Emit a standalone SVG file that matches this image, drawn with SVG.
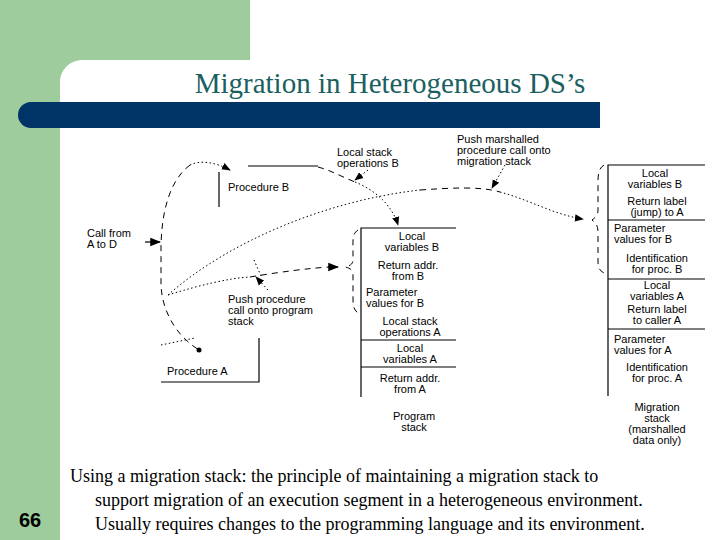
<svg xmlns="http://www.w3.org/2000/svg" width="720" height="540" viewBox="0 0 720 540">
<style>
.t{font-family:"Liberation Sans",Arial,sans-serif;font-size:11px;fill:#000;text-anchor:middle}
.tl{font-family:"Liberation Sans",Arial,sans-serif;font-size:11px;fill:#000}
.ln{stroke:#000;stroke-width:1.2;fill:none}
.da{stroke:#000;stroke-width:1;fill:none;stroke-dasharray:6 5}
.do{stroke:#000;stroke-width:1;fill:none;stroke-dasharray:1.5 2.5}
.cap{font-family:"Liberation Serif","Times New Roman",serif;font-size:18px;fill:#000}
</style>
<defs><marker id="ah" viewBox="0 0 10 10" refX="9" refY="5" markerWidth="9" markerHeight="9" orient="auto"><path d="M0,1 L10,5 L0,9 Z" fill="#000"/></marker></defs>
<rect width="720" height="540" fill="#fff"/>
<rect x="0" y="0" width="250" height="60" fill="#9fcc9c"/>
<rect x="0" y="0" width="60" height="540" fill="#9fcc9c"/>
<path d="M60,60 H82 A22,22 0 0 0 60,82 Z" fill="#9fcc9c"/>
<path d="M31,102 H600 V128 H31 A13,13 0 0 1 31,102 Z" fill="#003366"/>
<text x="390" y="93" font-family="Liberation Serif,Times New Roman,serif" font-size="29" fill="#1a6060" text-anchor="middle">Migration in Heterogeneous DS’s</text>
<text x="30" y="527" font-family="Liberation Sans,Arial,sans-serif" font-size="20" font-weight="bold" fill="#000" text-anchor="middle">66</text>
<text class="cap" x="70" y="482">Using a migration stack: the principle of maintaining a migration stack to</text>
<text class="cap" x="95" y="506">support migration of an execution segment in a heterogeneous environment.</text>
<text class="cap" x="95" y="530">Usually requires changes to the programming language and its environment.</text>
<g id="procB"><path class="ln" d="M248,166 H318 M219,172 V207"/><text class="tl" x="228" y="191">Procedure B</text></g>
<g id="procA"><path class="ln" d="M161,382 H259 V338"/><text class="tl" x="167" y="375">Procedure A</text><circle cx="199" cy="350" r="2.5" fill="#000"/></g>
<g id="progStack"><path class="ln" d="M361,397 V228 H456 M361,340 H456 M361,367 H456"/>
<text class="t" x="412" y="240">Local</text><text class="t" x="412" y="251">variables B</text>
<text class="t" x="408" y="269">Return addr.</text><text class="t" x="408" y="280">from B</text>
<text class="tl" x="366" y="296">Parameter</text><text class="tl" x="366" y="307">values for B</text>
<text class="t" x="410" y="325">Local stack</text><text class="t" x="410" y="336">operations A</text>
<text class="t" x="410" y="352">Local</text><text class="t" x="410" y="363">variables A</text>
<text class="t" x="410" y="382">Return addr.</text><text class="t" x="410" y="393">from A</text>
<text class="t" x="414" y="420">Program</text><text class="t" x="414" y="431">stack</text></g>
<g id="migStack"><path class="ln" d="M608,396 V165 H705 M608,220 H705 M608,279 H705 M608,329 H705"/>
<text class="t" x="655" y="177">Local</text><text class="t" x="655" y="188">variables B</text>
<text class="t" x="657" y="205">Return label</text><text class="t" x="657" y="216">(jump) to A</text>
<text class="tl" x="614" y="232">Parameter</text><text class="tl" x="614" y="243">values for B</text>
<text class="t" x="657" y="262">Identification</text><text class="t" x="657" y="273">for proc. B</text>
<text class="t" x="657" y="289">Local</text><text class="t" x="657" y="300">variables A</text>
<text class="t" x="657" y="313">Return label</text><text class="t" x="657" y="324">to caller A</text>
<text class="tl" x="614" y="343">Parameter</text><text class="tl" x="614" y="354">values for A</text>
<text class="t" x="657" y="371">Identification</text><text class="t" x="657" y="382">for proc. A</text>
<text class="t" x="657" y="411">Migration</text><text class="t" x="657" y="422">stack</text><text class="t" x="657" y="433">(marshalled</text><text class="t" x="657" y="444">data only)</text></g>
<g id="labels">
<text class="tl" x="87" y="237">Call from</text><text class="tl" x="87" y="248">A to D</text>
<text class="tl" x="337" y="156">Local stack</text><text class="tl" x="337" y="167">operations B</text>
<text class="tl" x="457" y="143">Push marshalled</text><text class="tl" x="457" y="154">procedure call onto</text><text class="tl" x="457" y="165">migration stack</text>
<text class="tl" x="228" y="303">Push procedure</text><text class="tl" x="228" y="314">call onto program</text><text class="tl" x="228" y="325">stack</text>
</g>
<g id="connectors">
<path class="da" d="M190,165 C170,180 162,210 161,245 V285 C162,310 175,335 199,350"/>
<path class="do" d="M190,165 C200,160 215,162 230,170" marker-end="url(#ah)"/>
<path class="ln" d="M145,242 H160" marker-end="url(#ah)"/>
<path class="do" d="M161,345 L195,338"/>
<path class="do" d="M168,295 C230,240 330,200 420,190"/>
<path class="da" d="M420,190 C450,188 480,186 500,192"/>
<path class="do" d="M500,192 C530,200 555,215 583,219" marker-end="url(#ah)"/>
<path class="do" d="M168,295 C200,285 230,278 250,277"/>
<path class="da" d="M250,277 C280,272 310,268 330,267"/>
<path class="ln" d="M328,267 L338,267" marker-end="url(#ah)"/>
<path class="do" d="M255,260 L262,276" transform="rotate(180 258 268)"/>
<path class="do" d="M268,290 L256,277" marker-end="url(#ah)"/>
<path class="da" d="M318,167 C330,170 340,176 355,182"/>
<path class="do" d="M355,182 C375,190 392,205 398,225" marker-end="url(#ah)"/>
<path class="do" d="M368,170 L355,180" marker-end="url(#ah)"/>
<path class="do" d="M505,165 L492,188" marker-end="url(#ah)"/>
<path class="da" d="M358,230 C352,234 353,240 353,250 V260 C353,264 350,266 345,267 C350,268 353,270 353,275 V300 C353,306 354,310 358,313"/>
<path class="da" d="M604,165 C599,168 598,174 598,182 V210 C598,215 595,218 592,220 C595,222 598,225 598,232 V262 C598,268 600,271 604,273"/>
</g>
</svg>
